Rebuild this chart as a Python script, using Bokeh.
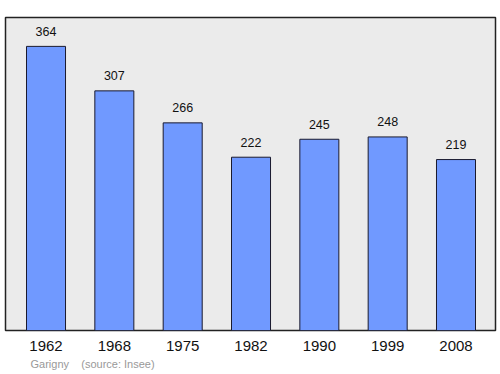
from bokeh.plotting import figure
from bokeh.models import ColumnDataSource, FixedTicker, Range1d, Title
from bokeh.core.properties import value
from bokeh.embed import file_html
from bokeh.resources import INLINE

years = ["1962", "1968", "1975", "1982", "1990", "1999", "2008"]
population = [364, 307, 266, 222, 245, 248, 219]
caption_place = "Garigny"
caption_source = "(source: Insee)"

xs = list(range(len(years)))
src = ColumnDataSource(dict(x=xs, top=population, label=[str(v) for v in population]))

p = figure(width=500, height=374, output_backend="svg", toolbar_location=None,
           x_range=Range1d(-0.593, 6.578), y_range=Range1d(0, 401),
           min_border_left=5, min_border_right=5, min_border_top=17, min_border_bottom=44)
p.background_fill_color = "#ebebeb"
p.border_fill_color = "white"
p.outline_line_color = "#222222"
p.outline_line_width = 1.5
p.xgrid.visible = False
p.ygrid.visible = False
p.yaxis.visible = False

p.vbar(x="x", top="top", width=0.571, bottom=0, source=src,
       fill_color="#7099ff", line_color="#1a1a2e", line_width=1)
p.text(x="x", y="top", text="label", source=src, text_align="center",
       text_baseline="middle", y_offset=-15, text_font=value("Liberation Sans"),
       text_font_size="12.5px", text_color="#111111")

ax = p.xaxis[0]
ax.ticker = FixedTicker(ticks=xs)
ax.major_label_overrides = {i: y for i, y in enumerate(years)}
ax.major_tick_in = 0
ax.major_tick_out = 0
ax.axis_line_color = None
ax.major_label_standoff = 10
ax.major_label_text_font = "Liberation Sans"
ax.major_label_text_font_size = "15px"
ax.major_label_text_color = "#111111"

cap = Title(text=caption_place + "\u00a0\u00a0\u00a0\u00a0" + caption_source, align="left",
            offset=25, text_font="Liberation Sans", text_font_size="11px",
            text_font_style="normal", text_color="#999999", standoff=4)
p.add_layout(cap, "below")

open("out.html", "w").write(file_html(p, INLINE))
